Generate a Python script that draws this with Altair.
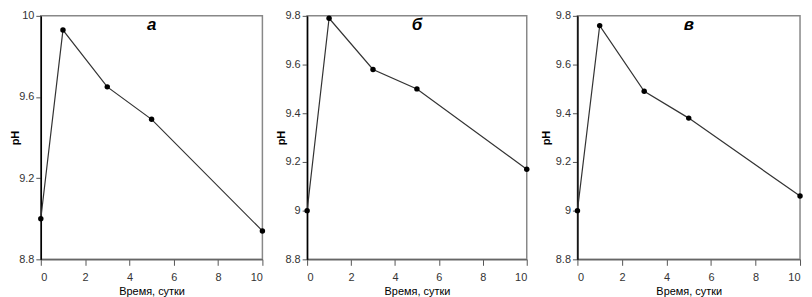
import altair as alt
import pandas as pd

days = [0, 1, 3, 5, 10]
ph_a = [9.00, 9.93, 9.65, 9.49, 8.94]
ph_b = [9.00, 9.79, 9.58, 9.50, 9.17]
ph_c = [9.00, 9.76, 9.49, 9.38, 9.06]
letters = ["а", "б", "в"]
x_ticks = [0, 2, 4, 6, 8, 10]
y_ticks_a = [8.8, 9.2, 9.6, 10.0]
y_ticks_bc = [8.8, 9.0, 9.2, 9.4, 9.6, 9.8]

FONT = "Liberation Sans"
H = 245


def panel(vals, letter, domain, ticks, width, title_pad):
    df = pd.DataFrame({"day": days, "ph": vals})
    base = alt.Chart(df)
    x = alt.X(
        "day:Q",
        scale=alt.Scale(domain=[0, 10], nice=False),
        axis=alt.Axis(values=x_ticks, title="Время, сутки", format="d",
                      domainColor="#666", domainWidth=1.5,
                      tickColor="#555", tickSize=6, labelPadding=6,
                      titlePadding=3, titleFontWeight="normal", titleFontSize=11),
    )
    y = alt.Y(
        "ph:Q",
        scale=alt.Scale(domain=domain, nice=False, zero=False),
        axis=alt.Axis(values=ticks, format=".1~f", title="pH",
                      domainColor="black", domainWidth=1.5,
                      tickColor="#555", tickSize=5, labelPadding=2,
                      titlePadding=title_pad, titleFontWeight="bold", titleFontSize=11),
    )
    line = base.mark_line(color="#333", strokeWidth=1.2).encode(x=x, y=y)
    pts = base.mark_circle(color="black", size=30, opacity=1).encode(x="day:Q", y="ph:Q")
    txt = alt.Chart(pd.DataFrame({"t": [letter]})).mark_text(
        font=FONT, fontSize=17, fontWeight="bold", fontStyle="italic", color="black",
        baseline="middle", align="center"
    ).encode(text="t:N", x=alt.value(width / 2), y=alt.value(9))
    return alt.layer(line, pts, txt).properties(width=width, height=H)


pa = panel(ph_a, letters[0], [8.8, 10.0], y_ticks_a, 223, -2)
pb = panel(ph_b, letters[1], [8.8, 9.8], y_ticks_bc, 221, -2)
pc = panel(ph_c, letters[2], [8.8, 9.8], y_ticks_bc, 224, 4)

chart = alt.hconcat(pa, pb, pc, spacing=8).properties(
    padding={"left": 0, "top": 0, "right": 0, "bottom": 0}
).configure(font=FONT).configure_view(
    stroke="#888", strokeWidth=1.5
).configure_axis(
    grid=False, labelFont=FONT, titleFont=FONT, labelFontSize=11,
    labelColor="#333", titleColor="black"
)

chart.save("out.html", embed_options={"renderer": "svg", "actions": False})
